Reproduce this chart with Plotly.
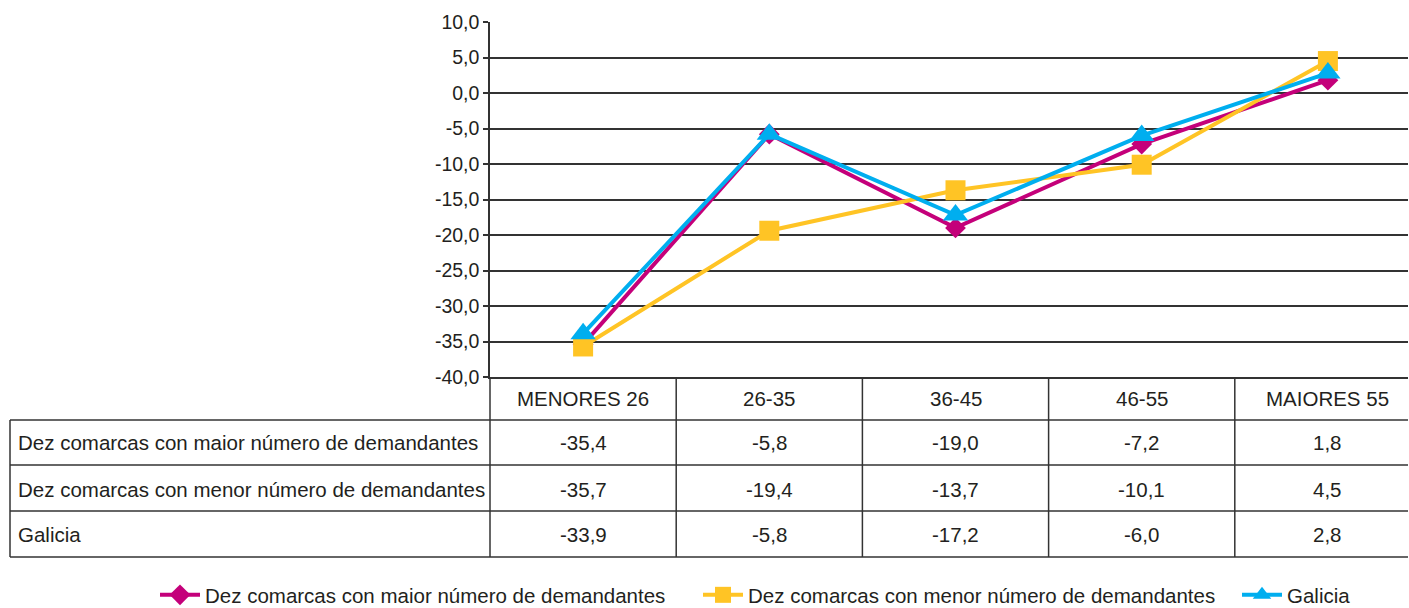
import plotly.graph_objects as go

categories = ["MENORES 26", "26-35", "36-45", "46-55", "MAIORES 55"]
series_names = [
    "Dez comarcas con maior número de demandantes",
    "Dez comarcas con menor número de demandantes",
    "Galicia",
]
maior = [-35.4, -5.8, -19.0, -7.2, 1.8]
menor = [-35.7, -19.4, -13.7, -10.1, 4.5]
galicia = [-33.9, -5.8, -17.2, -6.0, 2.8]
y_ticks = [10, 5, 0, -5, -10, -15, -20, -25, -30, -35, -40]

colors = ["#C4007A", "#FFC425", "#00AEEF"]
symbols = ["diamond", "square", "triangle-up"]
sizes = [16, 20, 22]
legends = ["legend", "legend", "legend2"]
series = [maior, menor, galicia]

FONT = "Liberation Sans, Arial, sans-serif"
TXT = "#231F20"
LINE = "#333333"
FS = 20.5

W, H = 1409, 608
L, R, T, B = 490, 1, 22, 231
plot_h = H - T - B
plot_w = W - L - R

def py(pix):
    return -(pix - (H - B)) / plot_h

def px(pix):
    return (pix - L) / plot_w

def fmt(v):
    return f"{v:.1f}".replace(".", ",")

xs = list(range(len(categories)))
fig = go.Figure()
for name, vals, c, s, sz, lg in zip(series_names, series, colors, symbols, sizes, legends):
    fig.add_trace(go.Scatter(
        x=xs, y=vals, name=name, mode="lines+markers", legend=lg,
        line=dict(color=c, width=4),
        marker=dict(color=c, symbol=s, size=sz, line=dict(width=0)),
        cliponaxis=False,
    ))

col_w = 186.2
x_hi = -0.5 + plot_w / col_w

shapes = []
annotations = []
row_edges = [420, 465, 511, 557]
row_centers = [442, 489, 534]
header_center = 398

for r in row_edges:
    shapes.append(dict(type="line", xref="paper", yref="paper",
                       x0=px(10), x1=1, y0=py(r), y1=py(r),
                       line=dict(color=LINE, width=1.5)))
shapes.append(dict(type="line", xref="paper", yref="paper",
                   x0=px(10), x1=px(10), y0=py(420), y1=py(557),
                   line=dict(color=LINE, width=1.5)))
shapes.append(dict(type="line", xref="paper", yref="paper",
                   x0=0, x1=0, y0=0, y1=py(557),
                   line=dict(color=LINE, width=1.5)))
for i in range(len(categories) - 1):
    shapes.append(dict(type="line", xref="x", yref="paper",
                       x0=i + 0.5, x1=i + 0.5, y0=0, y1=py(557),
                       line=dict(color=LINE, width=1.5)))

for i, cat in enumerate(categories):
    annotations.append(dict(x=i, y=py(header_center), xref="x", yref="paper",
                            text=cat, showarrow=False, yanchor="middle",
                            font=dict(size=FS, color=TXT, family=FONT)))
for r, (name, vals) in enumerate(zip(series_names, series)):
    annotations.append(dict(x=px(16), y=py(row_centers[r]), xref="paper", yref="paper",
                            text=name, showarrow=False, xanchor="left", yanchor="middle",
                            font=dict(size=FS, color=TXT, family=FONT)))
    for i, v in enumerate(vals):
        annotations.append(dict(x=i, y=py(row_centers[r]), xref="x", yref="paper",
                                text=fmt(v), showarrow=False, yanchor="middle",
                                font=dict(size=FS, color=TXT, family=FONT)))

legend_y = py(595)
fig.update_layout(
    width=W, height=H,
    margin=dict(l=L, r=R, t=T, b=B, pad=0, autoexpand=False),
    paper_bgcolor="white", plot_bgcolor="white",
    font=dict(family=FONT, size=FS, color=TXT),
    showlegend=True,
    legend=dict(orientation="h", x=px(155), xanchor="left",
                y=legend_y, yanchor="middle",
                font=dict(size=FS, color=TXT, family=FONT),
                entrywidth=488, entrywidthmode="pixels",
                itemwidth=40, tracegroupgap=0),
    legend2=dict(orientation="h", x=px(1237), xanchor="left",
                 y=legend_y, yanchor="middle",
                 font=dict(size=FS, color=TXT, family=FONT),
                 itemwidth=40, tracegroupgap=0),
    shapes=shapes,
    annotations=annotations,
    xaxis=dict(range=[-0.5, x_hi], showticklabels=False, showgrid=False,
               zeroline=False, showline=True, linecolor=LINE, linewidth=1.5,
               ticks="", automargin=False),
    yaxis=dict(range=[-40, 10], tickvals=y_ticks, ticktext=[fmt(v) for v in y_ticks],
               showgrid=True, gridcolor=LINE, gridwidth=1.5,
               zeroline=False, showline=True, linecolor=LINE, linewidth=1.5,
               ticks="outside", ticklen=5, tickcolor=LINE, tickwidth=1.5,
               tickfont=dict(size=19.5, color=TXT, family=FONT), mirror=False,
               automargin=False),
)

fig.write_html("out.html", config={"displayModeBar": False},
               post_script="document.body.style.margin='0';document.body.style.overflow='hidden';")
